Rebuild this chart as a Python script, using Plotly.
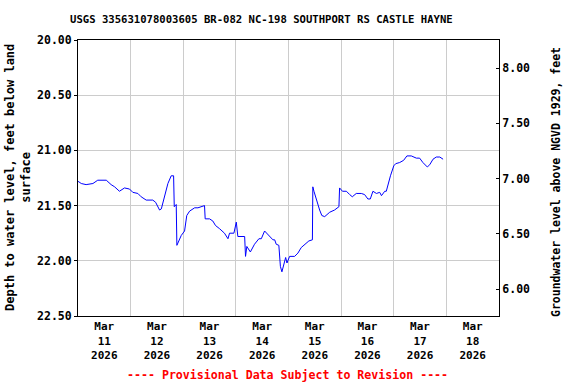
import pandas as pd
import plotly.graph_objects as go

title = "USGS 335631078003605 BR-082 NC-198 SOUTHPORT RS CASTLE HAYNE"
start = pd.Timestamp("2026-03-11 00:00")
end = pd.Timestamp("2026-03-19 00:00")
land_surface = 28.256  # elevation of land surface (NGVD 1929), feet

hours = [0, 1.5, 3.7, 6.8, 9.0, 12.9, 15.1, 16.7, 18.9, 21.2, 23.5, 25.0, 27.3, 28.8, 31.1,
         34.1, 35.4, 37.2, 38.0, 39.5, 41.0, 42.5, 43.6, 43.9, 44.8, 45.1, 46.3, 47.1, 48.6,
         49.6, 50.9, 53.2, 54.7, 56.2, 57.7, 58.0, 60.0, 61.5, 62.7, 64.6, 66.8, 68.4, 69.1,
         71.1, 71.7, 72.2, 72.9, 76.0, 76.4, 77.0, 78.6, 80.5, 82.5, 83.6, 85.1, 87.1, 88.9,
         89.7, 90.4, 91.6, 92.3, 93.0, 93.8, 94.7, 95.3, 96.5, 98.8, 100.3, 101.8, 103.4,
         105.3, 106.9, 107.1, 107.6, 108.7, 110.2, 111.2, 112.5, 114.8, 117.0, 119.0, 119.3,
         120.6, 122.4, 123.9, 125.1, 126.9, 129.2, 130.7, 132.2, 133.3, 134.5, 136.1, 137.6,
         138.4, 139.9, 140.6, 141.4, 142.5, 144.0, 144.9, 146.7, 148.5, 150.0, 152.0, 154.3,
         155.8, 157.3, 159.3, 160.4, 161.9, 163.4, 165.0, 166.5]
depth = [21.28, 21.30, 21.31, 21.30, 21.27, 21.27, 21.31, 21.33, 21.37, 21.34, 21.35, 21.38,
         21.39, 21.42, 21.45, 21.45, 21.47, 21.54, 21.53, 21.42, 21.30, 21.23, 21.23, 21.51,
         21.49, 21.86, 21.80, 21.77, 21.73, 21.59, 21.55, 21.52, 21.52, 21.51, 21.50, 21.62,
         21.62, 21.64, 21.68, 21.71, 21.75, 21.80, 21.75, 21.75, 21.68, 21.65, 21.78, 21.78,
         21.96, 21.87, 21.92, 21.85, 21.80, 21.80, 21.73, 21.77, 21.81, 21.81, 21.85, 21.86,
         22.05, 22.10, 22.04, 21.97, 22.02, 21.96, 21.96, 21.93, 21.88, 21.85, 21.82, 21.81,
         21.33, 21.37, 21.45, 21.54, 21.59, 21.60, 21.56, 21.54, 21.51, 21.34, 21.37, 21.37,
         21.40, 21.42, 21.39, 21.39, 21.40, 21.44, 21.44, 21.37, 21.39, 21.38, 21.41, 21.37,
         21.37, 21.30, 21.23, 21.14, 21.12, 21.11, 21.09, 21.05, 21.05, 21.07, 21.07, 21.11,
         21.15, 21.13, 21.08, 21.06, 21.06, 21.08]

day_labels = ["Mar<br>11<br>2026", "Mar<br>12<br>2026", "Mar<br>13<br>2026", "Mar<br>14<br>2026",
              "Mar<br>15<br>2026", "Mar<br>16<br>2026", "Mar<br>17<br>2026", "Mar<br>18<br>2026"]
depth_ticks = [20.0, 20.5, 21.0, 21.5, 22.0, 22.5]
elev_ticks = [6.0, 6.5, 7.0, 7.5, 8.0]

times = [start + pd.Timedelta(hours=h) for h in hours]
noons = [start + pd.Timedelta(hours=12 + 24 * i) for i in range(len(day_labels))]
midnights = [start + pd.Timedelta(days=i) for i in range(1, 8)]

FONT = "DejaVu Sans Mono"
W, H = 576, 384
ML, MR, MT, MB = 78, 77, 40, 68
PW, PH = W - ML - MR, H - MT - MB


def paper(px, py):
    """Convert a pixel position in the page to paper coordinates."""
    return (px - ML) / PW, (H - MB - py) / PH


fig = go.Figure()
fig.add_trace(go.Scatter(x=times, y=depth, mode="lines",
                         line=dict(color="#0000FF", width=1), showlegend=False,
                         xaxis="x", yaxis="y"))
fig.add_trace(go.Scatter(x=[start, end], y=[20, 20], mode="lines", line=dict(width=0),
                         showlegend=False, hoverinfo="skip", xaxis="x2", yaxis="y"))
fig.add_trace(go.Scatter(x=[start, end], y=[land_surface - 20, land_surface - 20], mode="lines",
                         line=dict(width=0), showlegend=False, hoverinfo="skip",
                         xaxis="x", yaxis="y2"))

tickfont = dict(family=FONT, size=11.5, color="black", weight="bold")
xtickfont = dict(family=FONT, size=11, color="black", weight="bold")

tx, ty = paper(261, 19)
lx, ly = paper(18, 178)
rx, ry = paper(556, 182)
bx, by = paper(287, 375)

common = dict(xref="paper", yref="paper", showarrow=False, xanchor="center", yanchor="middle")

fig.update_layout(
    template="none",
    width=W, height=H,
    margin=dict(l=ML, r=MR, t=MT, b=MB, autoexpand=False),
    paper_bgcolor="white", plot_bgcolor="white",
    xaxis=dict(range=[start, end], tickmode="array", tickvals=noons, ticktext=day_labels,
               showgrid=False, showline=True, linecolor="black", linewidth=1, mirror=True,
               ticks="", tickfont=xtickfont, zeroline=False, automargin=False),
    xaxis2=dict(range=[start, end], overlaying="x", tickmode="array", tickvals=midnights,
                showticklabels=False, showgrid=True, gridcolor="#CCCCCC", gridwidth=1,
                showline=False, ticks="", zeroline=False, layer="below traces",
                automargin=False),
    yaxis=dict(range=[22.5, 20.0], tickmode="array", tickvals=depth_ticks,
               tickformat=".2f", showgrid=True, gridcolor="#CCCCCC", gridwidth=1,
               showline=True, linecolor="black", linewidth=1, mirror=True,
               ticks="outside", ticklen=3, tickcolor="black", tickfont=tickfont,
               zeroline=False, automargin=False),
    yaxis2=dict(range=[land_surface - 22.5, land_surface - 20.0], overlaying="y", side="right",
                tickmode="array", tickvals=elev_ticks, tickformat=".2f", showgrid=False,
                showline=True, linecolor="black", linewidth=1, ticks="inside", ticklen=3,
                tickcolor="black", tickfont=tickfont, zeroline=False, automargin=False),
    annotations=[
        dict(text=title, x=tx, y=ty, **common,
             font=dict(family=FONT, size=10.6, color="black", weight="bold")),
        dict(text="Depth to water level, feet below land<br>surface", textangle=-90,
             x=lx, y=ly, **common,
             font=dict(family=FONT, size=12, color="black", weight="bold")),
        dict(text="Groundwater level above NGVD 1929, feet", textangle=-90,
             x=rx, y=ry, **common,
             font=dict(family=FONT, size=11.5, color="black", weight="bold")),
        dict(text="---- Provisional Data Subject to Revision ----",
             x=bx, y=by, **common,
             font=dict(family=FONT, size=11.6, color="#FF0000", weight="bold")),
    ],
)

fig.write_html("out.html", config={"displayModeBar": False},
               post_script="document.body.style.margin='0px';")
